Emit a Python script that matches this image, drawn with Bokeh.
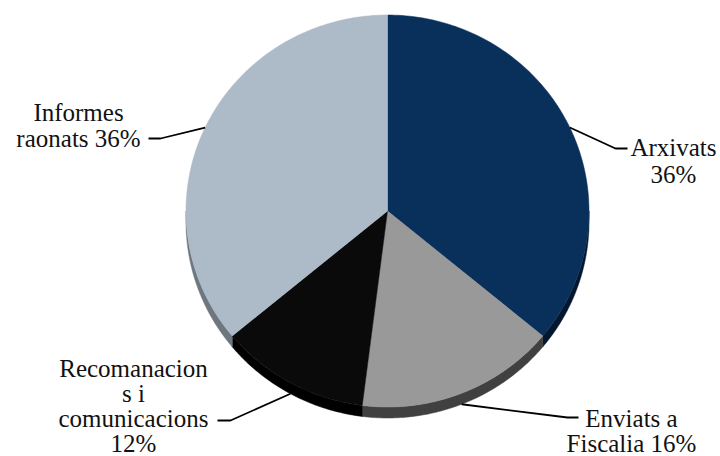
import numpy as np
from bokeh.plotting import figure
from bokeh.models import Range1d
from bokeh.core.properties import value
from bokeh.embed import file_html
from bokeh.resources import INLINE

# ---- data ----
categories = ["Arxivats", "Enviats a Fiscalia", "Recomanacions i comunicacions", "Informes raonats"]
shares = [36, 16, 12, 36]
label_lines = [
    ["Arxivats", "36%"],
    ["Enviats a", "Fiscalia 16%"],
    ["Recomanacion", "s i", "comunicacions", "12%"],
    ["Informes", "raonats 36%"],
]
top_colors = ["#08305B", "#999999", "#0A0A0A", "#ADBAC7"]
side_colors = ["#03172E", "#404040", "#000000", "#6E7780"]

# ---- layout (pixel coordinates of the picture) ----
cx, cy, rx, ry, depth = 387.0, 210.5, 201.5, 196.0, 11.0
label_pos = [  # (x center, first baseline, line step)
    (673, 147, 27),
    (631, 418, 25),
    (133, 368, 25),
    (78, 112, 26),
]
leader_elbow = [(615, 148, 627), (567, 417, 578), (230, 420, 217), (160, 138, 148)]

p = figure(width=720, height=456, output_backend="svg", toolbar_location=None,
           x_range=Range1d(0, 720), y_range=Range1d(456, 0), min_border=0)
p.axis.visible = False
p.grid.visible = False
p.outline_line_color = None
p.background_fill_color = "white"

total = float(sum(shares))
bounds = np.concatenate([[0], np.cumsum(shares)]) / total * 2 * np.pi


def ex(t):
    return cx + rx * np.sin(t)


def ey(t, off=0.0):
    return cy - ry * np.cos(t) + off


# side (depth) band for visible lower half
for i in range(len(shares)):
    a, b = bounds[i], bounds[i + 1]
    lo, hi = max(a, np.pi / 2), min(b, 3 * np.pi / 2)
    if hi <= lo:
        continue
    t = np.linspace(lo, hi, 80)
    xs = np.concatenate([ex(t), ex(t[::-1])])
    ys = np.concatenate([ey(t), ey(t[::-1], depth)])
    p.patch(xs, ys, fill_color=side_colors[i], line_color=side_colors[i], line_width=0.5)

# top faces
for i in range(len(shares)):
    a, b = bounds[i], bounds[i + 1]
    t = np.linspace(a, b, 120)
    xs = np.concatenate([[cx], ex(t)])
    ys = np.concatenate([[cy], ey(t)])
    p.patch(xs, ys, fill_color=top_colors[i], line_color=top_colors[i], line_width=0.5)

# leader lines
for i in range(len(shares)):
    m = (bounds[i] + bounds[i + 1]) / 2
    off = depth if np.cos(m) < 0 else 0.0
    sx, sy = ex(m), ey(m, off)
    exx, eyy, endx = leader_elbow[i]
    p.line([sx, exx, endx], [sy, eyy, eyy], line_color="black", line_width=1.8)

# labels
for i, lines in enumerate(label_lines):
    x0, y0, step = label_pos[i]
    xs = [x0] * len(lines)
    ys = [y0 + k * step for k in range(len(lines))]
    p.text(xs, ys, text=lines, text_font=value("Liberation Serif"), text_font_size="25px",
           text_align="center", text_baseline="alphabetic", text_color="#111111")

open("out.html", "w").write(file_html(p, INLINE))
